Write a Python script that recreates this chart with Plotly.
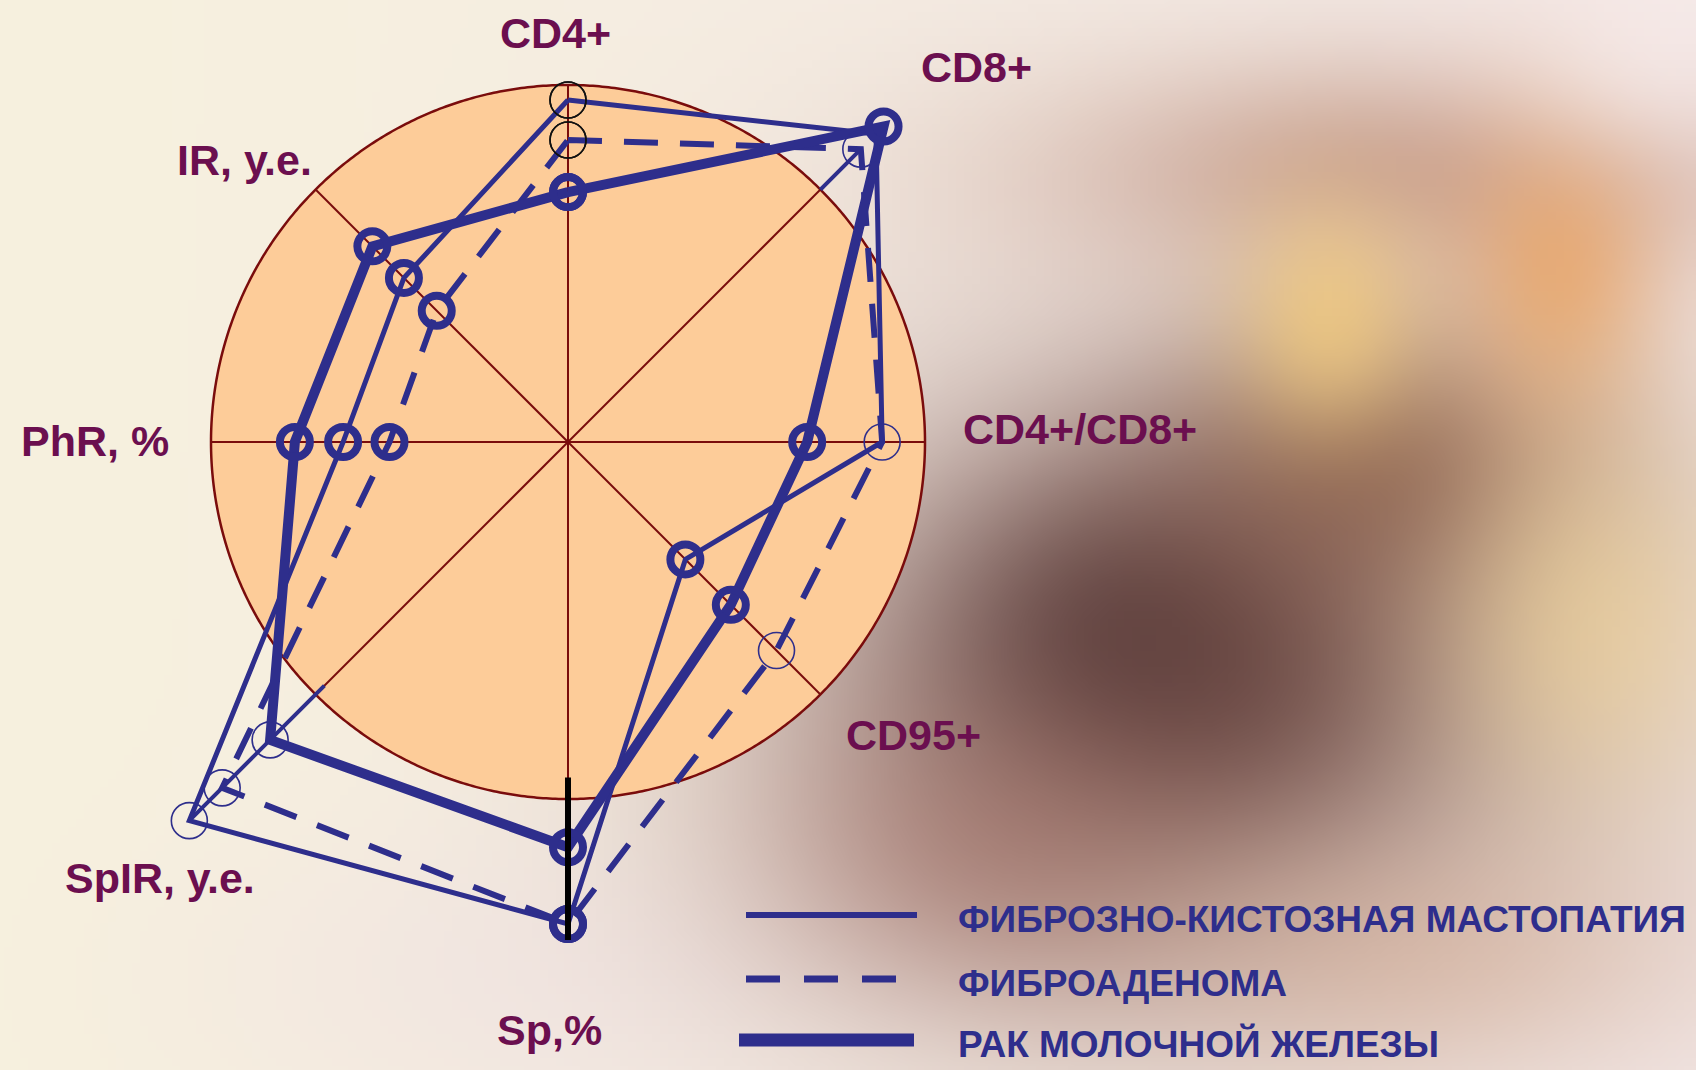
import base64
import struct
import zlib

import numpy as np
import plotly.graph_objects as go

# ---------------- data ----------------
AXES = ["CD4+", "CD8+", "CD4+/CD8+", "CD95+", "Sp,%", "SpIR, у.е.", "PhR, %", "IR, у.е."]
FKM = [0.958, 1.22, 0.88, 0.465, 1.35, 1.50, 0.63, 0.65]       # фиброзно-кистозная мастопатия
FA = [0.846, 1.16, 0.88, 0.826, 1.35, 1.37, 0.50, 0.52]        # фиброаденома
RMZH = [0.70, 1.25, 0.67, 0.645, 1.135, 1.18, 0.765, 0.775]    # рак молочной железы
SERIES_NAMES = ["ФИБРОЗНО-КИСТОЗНАЯ МАСТОПАТИЯ", "ФИБРОАДЕНОМА", "РАК МОЛОЧНОЙ ЖЕЛЕЗЫ"]
SP_BAR_R = [0.94, 1.395]          # black bar drawn on the Sp axis
SPOKE_EXT_CD8 = [1.0, 1.16]       # blue spoke extensions
SPOKE_EXT_SPIR = [0.965, 1.50]
R_MAX = 1.55                      # radial range shown (disc edge = 1)

# ---------------- styles ----------------
NAVY = "#2e2e8c"
LABEL_COL = "#6b0f4f"
GRID_COL = "#7a0c0c"
DISC = "#fdcc99"
B, T, N = "bold", "thin", "none"
MARK_FKM = [T, N, T, B, B, T, B, B]
MARK_FA = [T, T, N, T, B, T, B, B]
MARK_RMZH = [B, B, B, B, B, T, B, B]
BLACK_THIN = [True, False, False, False, False, False, False, False]

ANG = [i * 360 / len(AXES) for i in range(len(AXES))]
AX_ANGLE = dict(zip(AXES, ANG))


def marker_style(kinds, black_first):
    sizes, widths, cols = [], [], []
    for i, k in enumerate(kinds):
        if k == B:
            sizes.append(30); widths.append(8); cols.append(NAVY)
        elif k == T:
            sizes.append(36); widths.append(1.6)
            cols.append("#111111" if black_first[i] else NAVY)
        else:
            sizes.append(0); widths.append(0); cols.append("rgba(0,0,0,0)")
    return sizes + sizes[:1], widths + widths[:1], cols + cols[:1]


def closed(v):
    return list(v) + [v[0]]


# ---------------- geometry of the page ----------------
W, VIEW_H = 1696, 1070
OY = 120                      # figure is taller; its top OY px are scrolled out of view
H = VIEW_H + OY
CX, CY, RPX = 568, 442, 357   # disc centre / radius in view pixels


def px(x):
    return x / W


def py(y):
    return 1 - (y + OY) / H


# ---------------- background image (blurred photo imitation) ----------------
def make_bg():
    w, h = 212, 149
    sc = 1696 / w
    xs = (np.arange(w) + 0.5) * sc
    ys = (np.arange(h) + 0.5) * sc - OY
    X, Y = np.meshgrid(xs, ys)
    left = np.array([247, 241, 222], float)
    right = np.array([244, 233, 232], float)
    t = np.clip(X / 1696, 0, 1)[..., None]
    img = left * (1 - t) + right * t
    blobs = [
        (1000, 560, 260, 300, (234, 218, 214), 0.5),
        (560, 980, 260, 110, (240, 226, 226), 0.6),
        (1200, 690, 260, 190, (112, 75, 68), 0.88),
        (1130, 640, 130, 110, (80, 52, 52), 0.7),
        (1380, 470, 160, 110, (120, 74, 60), 0.75),
        (1420, 170, 260, 80, (175, 120, 100), 0.6),
        (1330, 320, 70, 90, (245, 205, 125), 0.75),
        (1560, 270, 70, 110, (235, 160, 90), 0.7),
        (1590, 620, 110, 140, (245, 215, 150), 0.6),
        (1000, 850, 160, 110, (160, 110, 100), 0.55),
        (1420, 960, 200, 90, (215, 175, 150), 0.5),
        (1650, 60, 120, 80, (250, 240, 240), 0.6),
    ]
    for cx, cy, sx, sy, col, a in blobs:
        al = a * np.exp(-(((X - cx) / sx) ** 2 + ((Y - cy) / sy) ** 2) / 2)[..., None]
        img = img * (1 - al) + np.array(col, float) * al
    arr = np.clip(img, 0, 255).astype(np.uint8)
    raw = b"".join(b"\x00" + arr[r].tobytes() for r in range(h))

    def chunk(tag, data):
        c = struct.pack(">I", len(data)) + tag + data
        return c + struct.pack(">I", zlib.crc32(tag + data) & 0xFFFFFFFF)

    png = b"\x89PNG\r\n\x1a\n" + chunk(b"IHDR", struct.pack(">IIBBBBB", w, h, 8, 2, 0, 0, 0)) \
        + chunk(b"IDAT", zlib.compress(raw, 9)) + chunk(b"IEND", b"")
    return "data:image/png;base64," + base64.b64encode(png).decode()


# ---------------- figure ----------------
fig = go.Figure()

# disc and spokes (radius 1)
circ_t = np.linspace(0, 360, 721)
fig.add_trace(go.Scatterpolar(r=np.ones_like(circ_t), theta=circ_t, mode="lines",
                              fill="toself", fillcolor=DISC,
                              line=dict(color=GRID_COL, width=2.5),
                              showlegend=False, hoverinfo="skip"))
sp_r, sp_t = [], []
for a in ANG:
    sp_r += [0, 1, None]
    sp_t += [a, a, None]
fig.add_trace(go.Scatterpolar(r=sp_r, theta=sp_t, mode="lines",
                              line=dict(color=GRID_COL, width=2),
                              showlegend=False, hoverinfo="skip"))

# extra spoke extensions
fig.add_trace(go.Scatterpolar(r=SPOKE_EXT_CD8 + [None] + SPOKE_EXT_SPIR,
                              theta=[AX_ANGLE["CD8+"]] * 2 + [None] + [AX_ANGLE["SpIR, у.е."]] * 2,
                              mode="lines", line=dict(color=NAVY, width=4),
                              showlegend=False, hoverinfo="skip"))

series = [
    (FKM, SERIES_NAMES[0], dict(color=NAVY, width=5), MARK_FKM),
    (FA, SERIES_NAMES[1], dict(color=NAVY, width=6, dash="34px,22px"), MARK_FA),
    (RMZH, SERIES_NAMES[2], dict(color=NAVY, width=10), MARK_RMZH),
]
for vals, name, line, kinds in series:
    fig.add_trace(go.Scatterpolar(r=closed(vals), theta=closed(ANG), mode="lines",
                                  line=line, name=name, showlegend=False))
for vals, name, line, kinds in series:
    s, w, c = marker_style(kinds, BLACK_THIN)
    fig.add_trace(go.Scatterpolar(r=closed(vals), theta=closed(ANG), mode="markers",
                                  marker=dict(symbol="circle-open", size=s, opacity=1,
                                              line=dict(width=w, color=c), color=c),
                                  name=name, showlegend=False))

fig.add_trace(go.Scatterpolar(r=SP_BAR_R, theta=[AX_ANGLE["Sp,%"]] * 2, mode="lines",
                              line=dict(color="#000000", width=6),
                              showlegend=False, hoverinfo="skip"))

RP = RPX * R_MAX
fig.update_layout(
    width=W, height=H,
    margin=dict(l=0, r=0, t=0, b=0),
    paper_bgcolor="#f5eee0",
    plot_bgcolor="rgba(0,0,0,0)",
    showlegend=False,
    polar=dict(
        domain=dict(x=[(CX - RP) / W, (CX + RP) / W],
                    y=[1 - (CY + OY + RP) / H, 1 - (CY + OY - RP) / H]),
        bgcolor="rgba(0,0,0,0)",
        angularaxis=dict(rotation=90, direction="clockwise", visible=False,
                         showgrid=False, showline=False),
        radialaxis=dict(range=[0, R_MAX], visible=False, showgrid=False),
    ),
    images=[dict(source=make_bg(), xref="paper", yref="paper", x=0, y=1,
                 sizex=1, sizey=1, sizing="stretch", layer="below", xanchor="left",
                 yanchor="top")],
)

# axis labels
label_pos = {
    "CD4+": (555, 33), "CD8+": (977, 67), "CD4+/CD8+": (1080, 429), "CD95+": (914, 735),
    "Sp,%": (549, 1030), "SpIR, у.е.": (160, 878), "PhR, %": (95, 441), "IR, у.е.": (244, 160),
}
for name in AXES:
    lx, ly = label_pos[name]
    fig.add_annotation(x=px(lx), y=py(ly), xref="paper", yref="paper", text="<b>%s</b>" % name,
                       showarrow=False, xanchor="center", yanchor="middle",
                       font=dict(family="Liberation Sans, Arial, sans-serif", size=43,
                                 color=LABEL_COL))

# legend (drawn manually)
leg_y = [915, 979, 1040]
leg_x0 = [746, 746, 739]
leg_x1 = [917, 896, 914]
leg_line = [dict(color=NAVY, width=6), dict(color=NAVY, width=7, dash="34px,24px"),
            dict(color=NAVY, width=13)]
for i, nm in enumerate(SERIES_NAMES):
    fig.add_shape(type="line", xref="paper", yref="paper", x0=px(leg_x0[i]), x1=px(leg_x1[i]),
                  y0=py(leg_y[i]), y1=py(leg_y[i]), line=leg_line[i])
    fig.add_annotation(x=px(956), y=py(leg_y[i] + 4), xref="paper", yref="paper",
                       text="<b>%s</b>" % nm, showarrow=False, xanchor="left", yanchor="middle",
                       font=dict(family="Liberation Sans, Arial, sans-serif", size=37,
                                 color=NAVY))

fig.write_html(
    "out.html",
    config={"displayModeBar": False},
    post_script=("document.documentElement.style.overflow='hidden';"
                 "document.body.style.margin='0';document.body.style.overflow='hidden';"
                 "var d=document.querySelector('.plotly-graph-div');"
                 "d.style.marginTop='-%dpx';" % OY),
)
